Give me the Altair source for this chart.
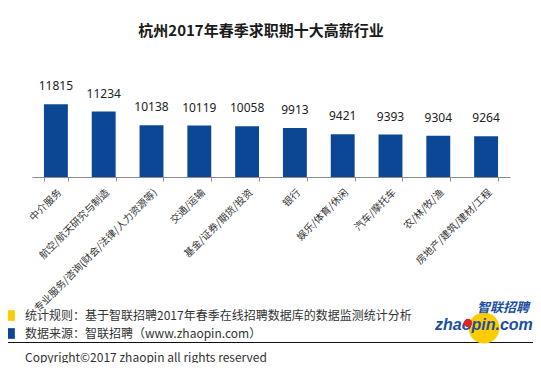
import altair as alt
import pandas as pd

title_text = "杭州2017年春季求职期十大高薪行业"
industries = [
    "中介服务",
    "航空/航天研究与制造",
    "专业服务/咨询(财会/法律/人力资源等)",
    "交通/运输",
    "基金/证券/期货/投资",
    "银行",
    "娱乐/体育/休闲",
    "汽车/摩托车",
    "农/林/牧/渔",
    "房地产/建筑/建材/工程",
]
salaries = [11815, 11234, 10138, 10119, 10058, 9913, 9421, 9393, 9304, 9264]
note_rule = "统计规则：基于智联招聘2017年春季在线招聘数据库的数据监测统计分析"
note_source = "数据来源：智联招聘（www.zhaopin.com）"
copyright_text = "Copyright©2017 zhaopin all rights reserved"
logo_cn = "智联招聘"
logo_en = "zhaopin.com"

BLUE = "#0C4796"
YELLOW = "#FFCC00"
CJK = "Noto Sans CJK SC"

df = pd.DataFrame({"industry": industries, "salary": salaries})

x_enc = alt.X(
    "industry:N",
    sort=industries,
    scale=alt.Scale(paddingInner=0.5, paddingOuter=0.25),
    axis=alt.Axis(
        title=None,
        labelAngle=-45,
        labelAlign="right",
        labelBaseline="top",
        labelFont=CJK,
        labelFontSize=10,
        labelColor="#333333",
        labelPadding=6,
        labelOverlap=False,
        labelLimit=300,
        domainColor="#8c8c8c",
        tickColor="#8c8c8c",
        tickSize=4,
        tickBand="extent",
        grid=False,
    ),
)
y_enc = alt.Y(
    "salary:Q",
    scale=alt.Scale(domain=[6000, 14000], nice=False, zero=False),
    axis=None,
)

base = alt.Chart(df)
bars = base.mark_bar(color=BLUE, clip=True).encode(x=x_enc, y=y_enc)
vals = base.mark_text(
    baseline="bottom", dy=-11, fontSize=12, font="Noto Sans", color="#222222"
).encode(x=x_enc, y=y_enc, text="salary:Q")


def txt(s, x, y, **kw):
    return alt.Chart(pd.DataFrame({"t": [s]})).mark_text(**kw).encode(
        text="t:N", x=alt.value(x), y=alt.value(y)
    )


def sq(color, x, y):
    return alt.Chart(pd.DataFrame({"c": [color]})).mark_square(
        size=115, color=color, opacity=1
    ).encode(x=alt.value(x), y=alt.value(y))


footer_kw = dict(align="left", baseline="middle", fontSize=12, font=CJK, color="#333333")
rule_line = alt.Chart(pd.DataFrame({"a": [0]})).mark_rule(color="#111111", strokeWidth=1).encode(
    x=alt.value(-27), x2=alt.value(506), y=alt.value(265.5)
)
logo_ball = alt.Chart(pd.DataFrame({"a": [0]})).mark_circle(
    size=950, color=YELLOW, opacity=1
).encode(x=alt.value(452), y=alt.value(251))
red_dot = alt.Chart(pd.DataFrame({"a": [0]})).mark_circle(
    size=70, color="#D8262B", opacity=1
).encode(x=alt.value(436), y=alt.value(246))

chart = alt.layer(
    bars,
    vals,
    sq(YELLOW, -22.5, 238.5),
    sq(BLUE, -22.5, 256.5),
    txt(note_rule, -7, 238.5, **footer_kw),
    txt(note_source, -7, 256.5, **footer_kw),
    rule_line,
    txt(copyright_text, -7, 280.5, **footer_kw),
    logo_ball,
    txt(logo_cn, 445, 230.5, align="left", baseline="middle", fontSize=13,
        font=CJK, fontWeight="bold", fontStyle="italic", color="#1B4FA0"),
    txt(logo_en, 403, 247.5, align="left", baseline="middle", fontSize=16,
        font="Liberation Sans", fontWeight="bold", fontStyle="italic", color="#1B4FA0"),
    red_dot,
).properties(
    width=478,
    height=100,
    title=alt.Title(
        title_text,
        font=CJK,
        fontSize=15,
        fontWeight="bold",
        color="#1a1a1a",
        anchor="middle",
        dx=-10,
        offset=38,
    ),
    autosize=alt.AutoSizeParams(type="none"),
    padding={"left": 24, "top": 69, "right": 23, "bottom": 186},
).configure_view(stroke=None)

chart.save("out.html", embed_options={"renderer": "svg", "actions": False})
